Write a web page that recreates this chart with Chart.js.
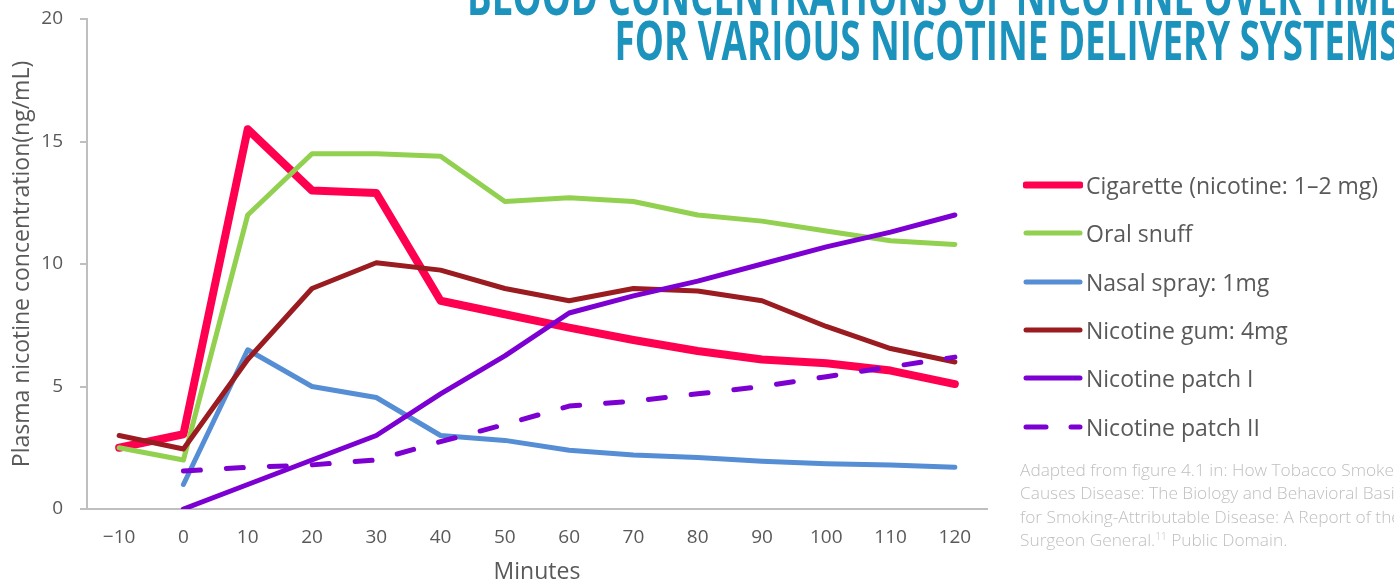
<!DOCTYPE html>
<html>
<head>
<meta charset="utf-8">
<title>Blood concentrations of nicotine over time</title>
<script src="https://cdn.jsdelivr.net/npm/chart.js@4"></script>
<style>
  html, body { margin: 0; padding: 0; background: #fff; overflow: hidden; }
  #wrap { position: relative; width: 1394px; height: 586px; overflow: hidden; font-family: "Open Sans", sans-serif; }
  #chart { position: absolute; left: 0; top: 0; }
  #heading { position: absolute; right: -6px; top: -28px; transform-origin: right top;
    font-family: "Open Sans", sans-serif; font-weight: 700; font-size: 53px; line-height: 45px;
    color: #1C93BD; text-align: right; white-space: nowrap; }
  #heading div { display: block; }
  #legend { position: absolute; left: 0; top: 0; }
  .item { position: absolute; left: 1023px; height: 48px; display: flex; align-items: center; white-space: nowrap;
    font-size: 23px; color: #595959; }
  .item svg { display: block; margin-right: 3px; }
  #source { position: absolute; left: 1020px; top: 458px; font-size: 17.3px; line-height: 23.3px; font-weight: 300;
    color: #BFBFBF; white-space: nowrap; }
  #source sup { font-size: 10px; vertical-align: 6px; line-height: 0; }
</style>
</head>
<body>
<div id="wrap">
  <canvas id="chart" width="1394" height="586"></canvas>
  <div id="heading"><div><span>BLOOD CONCENTRATIONS OF NICOTINE OVER TIME</span></div><div><span id="line2">FOR VARIOUS NICOTINE DELIVERY SYSTEMS</span></div></div>
  <div id="legend"></div>
  <div id="source">Adapted from figure 4.1 in: How Tobacco Smoke<br>Causes Disease: The Biology and Behavioral Basis<br>for Smoking-Attributable Disease: A Report of the<br>Surgeon General.<sup>11</sup> Public Domain.</div>
</div>
<script>
// Time points (minutes) and plasma nicotine levels (ng/mL) per delivery system
const minutes = ['\u221210', '0', '10', '20', '30', '40', '50', '60', '70', '80', '90', '100', '110', '120'];
const cigarette   = [2.5, 3.05, 15.5, 13.0, 12.9, 8.5, 7.95, 7.4, 6.9, 6.45, 6.1, 5.95, 5.65, 5.1];
const oralSnuff   = [2.5, 2.0, 12.0, 14.5, 14.5, 14.4, 12.55, 12.7, 12.55, 12.0, 11.75, 11.35, 10.95, 10.8];
const nasalSpray  = [null, 1.0, 6.5, 5.0, 4.55, 3.0, 2.8, 2.4, 2.2, 2.1, 1.95, 1.85, 1.8, 1.7];
const nicotineGum = [3.0, 2.45, 6.1, 9.0, 10.05, 9.75, 9.0, 8.5, 9.0, 8.9, 8.5, 7.45, 6.55, 6.0];
const patchOne    = [null, 0, 1.0, 2.0, 3.0, 4.7, 6.25, 8.0, 8.7, 9.3, 10.0, 10.7, 11.3, 12.0];
const patchTwo    = [null, 1.55, 1.7, 1.8, 2.0, 2.75, 3.45, 4.2, 4.4, 4.7, 5.0, 5.4, 5.8, 6.2];
const yTicks = [0, 5, 10, 15, 20];

const series = [
  { label: 'Cigarette (nicotine: 1\u20132 mg)', data: cigarette,   color: '#FF0050', width: 8, dash: [] },
  { label: 'Oral snuff',                        data: oralSnuff,   color: '#92D050', width: 5, dash: [] },
  { label: 'Nasal spray: 1mg',                  data: nasalSpray,  color: '#558ED5', width: 5, dash: [] },
  { label: 'Nicotine gum: 4mg',                 data: nicotineGum, color: '#9A1B20', width: 5, dash: [] },
  { label: 'Nicotine patch I',                  data: patchOne,    color: '#7D00D3', width: 5, dash: [] },
  { label: 'Nicotine patch II',                 data: patchTwo,    color: '#7D00D3', width: 5, dash: [17, 26] }
];

const tickFont = { family: '"Open Sans", sans-serif', size: 19 };
const titleFont = { family: '"Open Sans", sans-serif', size: 23 };
const axisGray = '#BFBFBF';
const textGray = '#595959';

new Chart(document.getElementById('chart'), {
  type: 'line',
  data: {
    labels: minutes,
    datasets: series.map((s, i) => ({
      label: s.label,
      data: s.data,
      borderColor: s.color,
      backgroundColor: s.color,
      borderWidth: s.width,
      borderDash: s.dash,
      borderCapStyle: 'round',
      borderJoinStyle: 'round',
      pointRadius: 0,
      tension: 0,
      fill: false,
      spanGaps: false,
      order: series.length - i
    }))
  },
  options: {
    responsive: false,
    animation: false,
    events: [],
    layout: { padding: { top: 19, right: 407, bottom: 0, left: 0 } },
    plugins: { legend: { display: false }, tooltip: { enabled: false }, title: { display: false } },
    scales: {
      x: {
        type: 'category',
        offset: true,
        grid: { display: false, drawTicks: false },
        border: { display: true, color: axisGray, width: 2 },
        ticks: { color: textGray, font: tickFont, padding: 17, maxRotation: 0, autoSkip: false },
        title: { display: true, text: 'Minutes', color: textGray, font: titleFont, padding: { top: 0, bottom: 0 } },
        afterFit: s => { s.height = 77; }
      },
      y: {
        min: 0,
        max: 20,
        afterBuildTicks: s => { s.ticks = yTicks.map(v => ({ value: v })); },
        ticks: { color: textGray, font: tickFont, padding: 17 },
        grid: { drawOnChartArea: false, drawTicks: true, tickLength: 7, color: axisGray, lineWidth: 2 },
        border: { display: true, color: axisGray, width: 2 },
        title: { display: true, text: 'Plasma nicotine concentration(ng/mL)', color: textGray, font: titleFont, padding: { top: 9, bottom: 0 } },
        afterFit: s => { s.width = 87; s.paddingTop = 0; s.paddingBottom = 0; }
      }
    }
  }
});

// Legend on the right, built from the series list
const legend = document.getElementById('legend');
series.forEach((s, i) => {
  const row = document.createElement('div');
  row.className = 'item';
  row.style.top = (185 + i * 48.3 - 24) + 'px';
  const sw = s.width === 8 ? 7 : 5;
  const svgNS = 'http://www.w3.org/2000/svg';
  const svg = document.createElementNS(svgNS, 'svg');
  svg.setAttribute('width', '60');
  svg.setAttribute('height', '12');
  const addSeg = (x1, x2) => {
    const ln = document.createElementNS(svgNS, 'line');
    ln.setAttribute('x1', x1); ln.setAttribute('x2', x2);
    ln.setAttribute('y1', 6); ln.setAttribute('y2', 6);
    ln.setAttribute('stroke', s.color);
    ln.setAttribute('stroke-width', sw);
    ln.setAttribute('stroke-linecap', 'round');
    svg.appendChild(ln);
  };
  if (s.dash.length) { addSeg(3, 23); addSeg(48, 57); } else { addSeg(3, 57); }
  row.appendChild(svg);
  const txt = document.createElement('span');
  txt.textContent = s.label;
  row.appendChild(txt);
  legend.appendChild(row);
});

// Condensed heading: squeeze the bold face horizontally
function fitHeading() {
  const h = document.getElementById('heading');
  h.style.transform = 'none';
  const w = document.getElementById('line2').getBoundingClientRect().width;
  if (w > 0) h.style.transform = 'scaleX(' + (785 / w) + ')';
}
fitHeading();
if (document.fonts && document.fonts.ready) document.fonts.ready.then(fitHeading);
</script>
</body>
</html>
